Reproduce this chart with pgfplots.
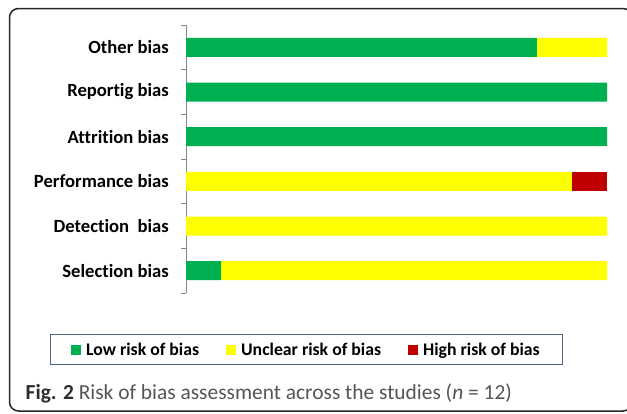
\documentclass[border=0pt]{standalone}
\usepackage{fontspec}
\setmainfont{Carlito}[Ligatures=NoCommon]
\usepackage{pgfplots}
\pgfplotsset{compat=1.18}
\definecolor{lowc}{HTML}{00B050}
\definecolor{uncc}{HTML}{FFFF00}
\definecolor{highc}{HTML}{C00000}
\definecolor{legb}{RGB}{79,98,140}
\definecolor{axg}{RGB}{134,134,134}
\definecolor{framec}{RGB}{40,40,40}
\definecolor{capdark}{RGB}{45,45,45}
\definecolor{capg}{RGB}{85,85,85}
\pgfplotsset{sqleg/.style={legend image code/.code={\path[##1] (0bp,-5bp) rectangle (10bp,5bp);}}}
\begin{document}
\begin{tikzpicture}[x=1bp,y=1bp]
\useasboundingbox (0,0) rectangle (627,-413);
\draw[line width=1.5bp, color=framec, rounded corners=9bp] (9.5,-8.5) rectangle (632,-411);
\begin{axis}[
 at={(186bp,-293bp)}, anchor=south west,
 width=421bp, height=268bp, scale only axis,
 xbar stacked, bar width=19bp,
 xmin=0, xmax=100, ymin=-0.5, ymax=5.5,
 axis x line=none, axis y line*=left,
 axis line style={draw=axg, line width=0.8bp},
 ytick={0,...,5},
 yticklabels={Selection bias, Detection\ \ bias, Performance bias, Attrition bias, Reportig bias, Other bias},
 major tick length=0pt,
 minor ytick={-0.5,0.5,...,5.5},
 minor tick length=5bp,
 tick align=outside,
 minor tick style={draw=axg, line width=0.8bp},
 yticklabel style={font=\bfseries\fontsize{18.7}{20}\selectfont, inner sep=0pt, xshift=-17bp},
 legend columns=3,
 legend style={at={(0.286,-0.211)}, anchor=center, draw=legb, line width=1.2bp,
   font=\bfseries\fontsize{17.8}{20}\selectfont,
   inner xsep=21bp, inner ysep=6bp,
   /tikz/every odd column/.append style={column sep=3bp},
   /tikz/every even column/.append style={column sep=25bp}},
]
\addplot[fill=lowc, draw=none, sqleg] coordinates {(8.33,0) (0,1) (0,2) (100,3) (100,4) (83.33,5)};
\addplot[fill=uncc, draw=none, sqleg] coordinates {(91.67,0) (100,1) (91.67,2) (0,3) (0,4) (16.67,5)};
\addplot[fill=highc, draw=none, sqleg] coordinates {(0,0) (0,1) (8.33,2) (0,3) (0,4) (0,5)};
\legend{Low risk of bias, Unclear risk of bias, High risk of bias}
\end{axis}
\node[anchor=base west, inner sep=0pt] at (25.5,-399) {\fontsize{21.5}{24}\selectfont\textcolor{capdark}{\textbf{Fig. 2}} \textcolor{capg}{Risk of bias assessment across the studies (\textit{n} = 12)}};
\end{tikzpicture}
\end{document}
